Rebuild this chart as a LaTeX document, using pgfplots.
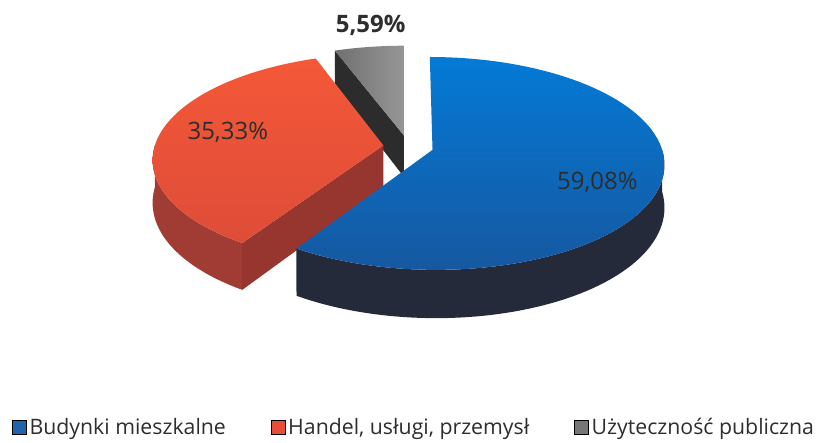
\documentclass[border=0pt]{standalone}
\usepackage{fontspec}
\setmainfont{Open Sans}
\usepackage{pgfplots}
\pgfplotsset{compat=1.18}
\usepackage{pgfplotstable}

\definecolor{bluetopA}{RGB}{4,122,214}
\definecolor{bluetopB}{RGB}{22,88,160}
\definecolor{blueside}{RGB}{36,42,58}
\definecolor{redtopA}{RGB}{244,88,56}
\definecolor{redtopB}{RGB}{222,76,56}
\definecolor{redside}{RGB}{160,60,52}
\definecolor{redcut}{RGB}{150,54,46}
\definecolor{greytopA}{RGB}{150,150,150}
\definecolor{greytopB}{RGB}{112,112,112}
\definecolor{greycut}{RGB}{44,44,44}
\definecolor{legblue}{RGB}{32,100,172}
\definecolor{legred}{RGB}{230,78,58}
\definecolor{leggrey}{RGB}{118,118,118}
\definecolor{txt}{RGB}{45,45,45}

\pgfplotstableread[col sep=semicolon]{
name;share
Budynki mieszkalne;59.08
Handel, usługi, przemysł;35.33
Użyteczność publiczna;5.59
}\piedata
\pgfplotstablegetelem{0}{share}\of\piedata \let\sA\pgfplotsretval
\pgfplotstablegetelem{1}{share}\of\piedata \let\sB\pgfplotsretval
\pgfplotstablegetelem{2}{share}\of\piedata \let\sC\pgfplotsretval

% geometry (projection of the pie plane)
\def\Xo{408.7}\def\Yo{296.2}\def\Rx{229}\def\Ry{104}\def\Hz{42}\def\kk{0.127}\def\ex{0.11}

\pgfmathsetmacro\aA{90-3.6*\sA}
\pgfmathsetmacro\aB{\aA-3.6*\sB}
\pgfmathsetmacro\aC{\aB-3.6*\sC}
\pgfmathsetmacro\duA{\ex*cos((\aA+90)/2)}\pgfmathsetmacro\dvA{\ex*sin((\aA+90)/2)}
\pgfmathsetmacro\duB{\ex*cos((\aB+\aA)/2)}\pgfmathsetmacro\dvB{\ex*sin((\aB+\aA)/2)}
\pgfmathsetmacro\duC{\ex*cos((\aC+\aB)/2)}\pgfmathsetmacro\dvC{\ex*sin((\aC+\aB)/2)}

\newcommand\projpt[6]{% du dv r angle z name
 \pgfmathsetmacro\tmpu{(#1)+(#3)*cos(#4)}%
 \pgfmathsetmacro\tmpv{(#2)+(#3)*sin(#4)}%
 \pgfmathsetmacro\tmps{1/(1+\kk*\tmpv)}%
 \expandafter\pgfmathsetmacro\csname #6x\endcsname{\Xo+\Rx*\tmpu*\tmps}%
 \expandafter\pgfmathsetmacro\csname #6y\endcsname{\Yo+(\Ry*\tmpv-\Hz*(#5))*\tmps}}
% grey cut face at angle aB
\projpt{\duC}{\dvC}{0}{0}{0}{GAt}\projpt{\duC}{\dvC}{0}{0}{1}{GAb}
\projpt{\duC}{\dvC}{1}{\aB}{0}{GRt}\projpt{\duC}{\dvC}{1}{\aB}{1}{GRb}
% red cut face at angle aA
\projpt{\duB}{\dvB}{0}{0}{0}{RAt}\projpt{\duB}{\dvB}{0}{0}{1}{RAb}
\projpt{\duB}{\dvB}{1}{\aA}{0}{RRt}\projpt{\duB}{\dvB}{1}{\aA}{1}{RRb}

\newcommand\topface[5]{%
 \addplot[#1, draw=none, forget plot, variable=\t, samples at={0,...,90}]
 ({PX((#2)+(\t>0)*cos(secang(\t,#4,#5)),(#3)+(\t>0)*sin(secang(\t,#4,#5)))},
  {PY((#3)+(\t>0)*sin(secang(\t,#4,#5)),0)}) -- cycle;}
\newcommand\sideface[5]{%
 \addplot[#1, draw=none, forget plot, variable=\t, samples at={0,...,119}]
 ({PX((#2)+cos(sideang(\t,#4,#5)),(#3)+sin(sideang(\t,#4,#5)))},
  {PY((#3)+sin(sideang(\t,#4,#5)),(\t>59))}) -- cycle;}

\begin{document}
\begin{tikzpicture}
\begin{axis}[
  width=817pt, height=443pt, scale only axis,
  xmin=0, xmax=817, ymin=0, ymax=443,
  hide axis, clip=false,
  declare function={
    PX(\pu,\pv)=\Xo+\Rx*\pu/(1+\kk*\pv);
    PY(\pv,\pz)=\Yo+(\Ry*\pv-\Hz*\pz)/(1+\kk*\pv);
    secang(\pk,\pp,\pq)=\pp+(\pk-1)*(\pq-\pp)/89;
    sideang(\pk,\pp,\pq)=(\pk<60)*(\pp+\pk*(\pq-\pp)/59)+(\pk>59)*(\pq-(\pk-60)*(\pq-\pp)/59);
  },
  legend columns=3,
  legend style={at={(12/817,15/443)}, anchor=west, draw=none, fill=none,
    font=\fontsize{21.3}{24}\selectfont, text=txt, inner sep=0pt,
    nodes={inner sep=3pt},
    /tikz/every even column/.append style={column sep=42pt}},
  legend cell align=left,
  legend image code/.code={\fill[#1] (0pt,-7pt) rectangle (14pt,7pt);},
]
\addplot[draw=none, forget plot] coordinates {(0,0) (817,443)};

% grey slice (back)
\addplot[fill=greycut, draw=none, forget plot] coordinates {(\GAtx,\GAty) (\GRtx,\GRty) (\GRbx,\GRby) (\GAbx,\GAby)} -- cycle;
\topface{left color=greytopB, right color=greytopA}{\duC}{\dvC}{\aC}{\aB}
% red slice
\sideface{fill=redside}{\duB}{\dvB}{-180}{\aA}
\addplot[fill=redcut, draw=none, forget plot] coordinates {(\RAtx,\RAty) (\RRtx,\RRty) (\RRbx,\RRby) (\RAbx,\RAby)} -- cycle;
\topface{top color=redtopA, bottom color=redtopB}{\duB}{\dvB}{\aB}{\aA}
% blue slice (front)
\sideface{fill=blueside}{\duA}{\dvA}{\aA}{0}
\topface{top color=bluetopA, bottom color=bluetopB}{\duA}{\dvA}{\aA}{90}

\node[font=\bfseries\fontsize{24}{28}\selectfont, text=txt] at (axis cs:371,418) {5,59\%};
\node[font=\fontsize{24}{28}\selectfont, text=txt] at (axis cs:228,310) {35,33\%};
\node[font=\fontsize{24}{28}\selectfont, text=txt] at (axis cs:598,260) {59,08\%};

\addlegendimage{fill=legblue}\addlegendentry{Budynki mieszkalne}
\addlegendimage{fill=legred}\addlegendentry{Handel, usługi, przemysł}
\addlegendimage{fill=leggrey}\addlegendentry{Użyteczność publiczna}
\end{axis}
\end{tikzpicture}
\end{document}
